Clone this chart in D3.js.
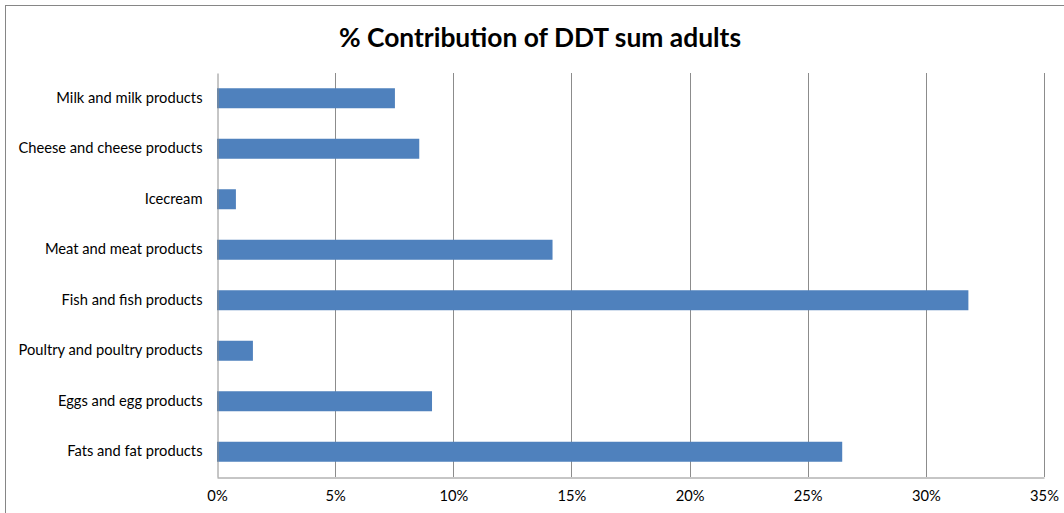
<!DOCTYPE html>
<html><head><meta charset="utf-8">
<script src="https://cdn.jsdelivr.net/npm/d3@7"></script>
<style>body{margin:0;background:#fff;} svg{display:block;}</style>
</head><body>
<script>
const categories = ["Milk and milk products","Cheese and cheese products","Icecream","Meat and meat products","Fish and fish products","Poultry and poultry products","Eggs and egg products","Fats and fat products"];
const values = [7.53, 8.56, 0.8, 14.2, 31.8, 1.52, 9.1, 26.46];
const xTicks = [0,5,10,15,20,25,30,35];
const title = "% Contribution of DDT sum adults";

const W = 1064, H = 513;
const m = {left:217, right:20, top:73, bottom:36};
const svg = d3.select("body").append("svg").attr("width", W).attr("height", H);
svg.append("rect").attr("x",5.5).attr("y",5.5).attr("width",W+10).attr("height",H+10)
  .attr("fill","#fff").attr("stroke","#868686").attr("stroke-width",1);

const x = d3.scaleLinear().domain([0,35]).range([m.left, 1044]);
const y = d3.scaleBand().domain(categories).range([m.top, 477]).paddingInner(0.604).paddingOuter(0.302);

const font = "Lato, 'Open Sans', sans-serif";
// gridlines
svg.append("g").selectAll("line").data(xTicks.slice(1)).join("line")
  .attr("x1", d=>Math.round(x(d))+0.5).attr("x2", d=>Math.round(x(d))+0.5)
  .attr("y1", m.top).attr("y2", 477).attr("stroke","#8c8c8c").attr("stroke-width",1);

// bars
svg.append("g").selectAll("rect").data(values).join("rect")
  .attr("x", x(0)).attr("y", (d,i)=>y(categories[i]))
  .attr("width", d=>x(d)-x(0)).attr("height", y.bandwidth())
  .attr("fill","#4F81BD");

// y axis
const ya = svg.append("g").attr("transform",`translate(${m.left+0.5},0)`)
  .call(d3.axisLeft(y).tickSize(0).tickPadding(15));
ya.select(".domain").attr("stroke","#8c8c8c");
ya.selectAll("text").attr("font-family",font).attr("font-size",14.7).attr("fill","#000");

// x axis
const xa = svg.append("g").attr("transform",`translate(0,477.5)`)
  .call(d3.axisBottom(x).tickValues(xTicks).tickFormat(d=>d+"%").tickSize(0).tickPadding(13));
xa.select(".domain").attr("stroke","#8c8c8c");
xa.selectAll("text").attr("font-family",font).attr("font-size",14.7).attr("fill","#000");

svg.append("text").attr("x",540).attr("y",47).attr("text-anchor","middle")
  .attr("font-family",font).attr("font-weight","bold").attr("font-size",26.4).text(title);
</script>
</body></html>
